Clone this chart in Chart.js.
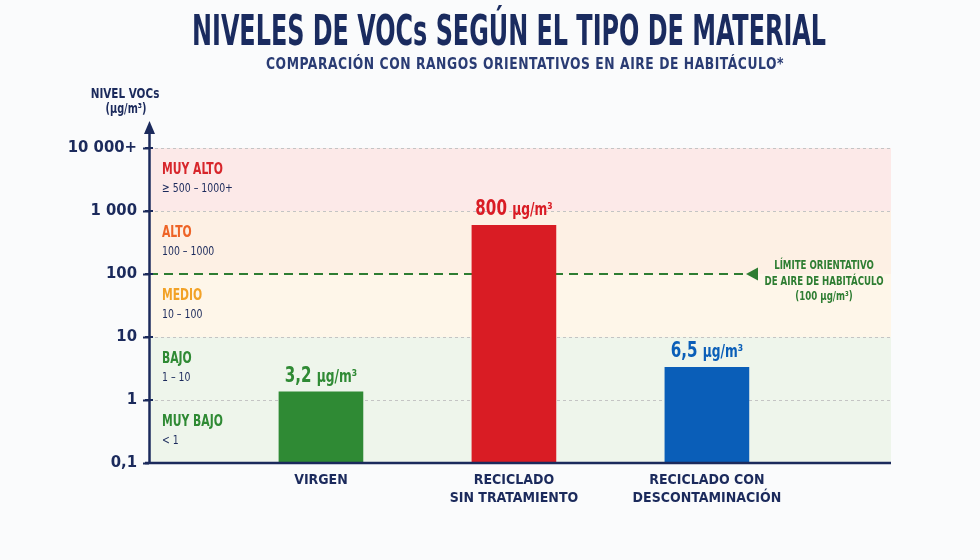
<!DOCTYPE html>
<html><head><meta charset="utf-8">
<script src="https://cdn.jsdelivr.net/npm/chart.js@4"></script>
<style>html,body{margin:0;padding:0;background:#fafbfc}#wrap{width:980px;height:560px}</style>
</head><body><div id="wrap"><canvas id="c" width="980" height="560"></canvas></div>
<script>
// ---- data ----
const categories = [['VIRGEN'], ['RECICLADO', 'SIN TRATAMIENTO'], ['RECICLADO CON', 'DESCONTAMINACIÓN']];
const positions = [1, 2, 3];
const barValues = [1.35, 590, 3.3];
const valueLabels = ['3,2', '800', '6,5'];
const unitLabel = 'µg/m³';
const barColors = ['#2f8a34', '#d91c24', '#0a5eb8'];
const tickValues = [0.1, 1, 10, 100, 1000, 10000];
const tickLabels = ['0,1', '1', '10', '100', '1 000', '10 000+'];
const gridValues = [1, 10, 1000, 10000];
const limitValue = 100;
const limitLines = ['LÍMITE ORIENTATIVO', 'DE AIRE DE HABITÁCULO', '(100 µg/m³)'];
const zoneTop = [10000, 1000, 100, 10, 1];
const zoneBottom = [1000, 100, 10, 1, 0.1];
const zoneNames = ['MUY ALTO', 'ALTO', 'MEDIO', 'BAJO', 'MUY BAJO'];
const zoneRanges = ['≥ 500 – 1000+', '100 – 1000', '10 – 100', '1 – 10', '< 1'];
const zoneNameColors = ['#d7262b', '#ee6427', '#f2a227', '#2f8a34', '#2f8a34'];
const zoneFills = ['#fce9e8', '#fdf0e4', '#fef6e9', '#eef5eb', '#eef5eb'];
const titleText = 'NIVELES DE VOCs SEGÚN EL TIPO DE MATERIAL';
const subtitleText = 'COMPARACIÓN CON RANGOS ORIENTATIVOS EN AIRE DE HABITÁCULO*';
const yTitle = ['NIVEL VOCs', '(µg/m³)'];

const NAVY = '#1b2a5c';
const GREEN = '#2e7d32';

// pick a condensed family if available
function pickFamily() {
  const c = document.createElement('canvas').getContext('2d');
  const cands = ['Liberation Sans Narrow', 'DejaVu Sans Condensed', 'Roboto Condensed', 'Arial Narrow'];
  for (const f of cands) {
    c.font = "20px '" + f + "', monospace"; const a = c.measureText('NIVELES abc').width;
    c.font = '20px monospace'; const b = c.measureText('NIVELES abc').width;
    if (Math.abs(a - b) > 0.5) return {fam: "'" + f + "'", sq: 0.8, cond: true};
  }
  return {fam: 'Roboto', sq: 0.7, cond: false};
}
const FF = pickFamily();
const FAM = FF.fam + ', Roboto, sans-serif';

function txt(ctx, s, x, y, font, color, align, sx) {
  ctx.save();
  ctx.font = font; ctx.fillStyle = color; ctx.textAlign = align || 'left'; ctx.textBaseline = 'alphabetic';
  ctx.translate(x, y); ctx.scale(sx || 1, 1); ctx.fillText(s, 0, 0);
  ctx.restore();
}

const bgPlugin = {
  id: 'bg',
  beforeDraw(chart) {
    const {ctx, width, height} = chart;
    ctx.save(); ctx.fillStyle = '#fafbfc'; ctx.fillRect(0, 0, width, height); ctx.restore();
  },
  beforeDatasetsDraw(chart) {
    const {ctx, chartArea: a, scales: {y}} = chart;
    ctx.save();
    zoneTop.forEach((t, i) => {
      const y1 = y.getPixelForValue(t), y2 = y.getPixelForValue(zoneBottom[i]);
      ctx.fillStyle = zoneFills[i];
      ctx.fillRect(a.left, y1, a.right - a.left, y2 - y1);
    });
    // dotted grid
    ctx.strokeStyle = '#c4c4c4'; ctx.lineWidth = 1; ctx.setLineDash([3, 3]);
    gridValues.forEach(v => {
      const py = Math.round(y.getPixelForValue(v)) + 0.5;
      ctx.beginPath(); ctx.moveTo(a.left, py); ctx.lineTo(a.right, py); ctx.stroke();
    });
    // limit line
    const ly = y.getPixelForValue(limitValue);
    ctx.strokeStyle = GREEN; ctx.lineWidth = 1.8; ctx.setLineDash([9, 6]);
    ctx.beginPath(); ctx.moveTo(a.left, ly); ctx.lineTo(a.left + 596, ly); ctx.stroke();
    ctx.setLineDash([]);
    ctx.fillStyle = GREEN;
    const ax = a.left + 597;
    ctx.beginPath(); ctx.moveTo(ax, ly); ctx.lineTo(ax + 12, ly - 6.5); ctx.lineTo(ax + 12, ly + 6.5); ctx.closePath(); ctx.fill();
    const cx = a.left + 675;
    limitLines.forEach((s, i) => txt(ctx, s, cx, ly - 5 + i * 15.5, '700 12px ' + FAM, GREEN, 'center', FF.sq));
    // zone labels
    zoneTop.forEach((t, i) => {
      const y1 = y.getPixelForValue(t);
      txt(ctx, zoneNames[i], a.left + 13, y1 + 26, '700 15px ' + FAM, zoneNameColors[i], 'left', FF.sq);
      txt(ctx, zoneRanges[i], a.left + 13, y1 + 44, '500 13px ' + FAM, NAVY, 'left', FF.sq);
    });
    ctx.restore();
  },
  afterDatasetsDraw(chart) {
    const {ctx, chartArea: a} = chart;
    ctx.save();
    // axes
    ctx.strokeStyle = NAVY; ctx.lineWidth = 2.5;
    ctx.beginPath(); ctx.moveTo(a.left + 0.5, a.bottom); ctx.lineTo(a.left + 0.5, a.top - 18); ctx.stroke();
    ctx.beginPath(); ctx.moveTo(a.left - 4, a.bottom); ctx.lineTo(a.right, a.bottom); ctx.stroke();
    ctx.fillStyle = NAVY;
    ctx.beginPath(); ctx.moveTo(a.left + 0.5, a.top - 27); ctx.lineTo(a.left + 6, a.top - 14); ctx.lineTo(a.left - 5, a.top - 14); ctx.closePath(); ctx.fill();
    ctx.lineWidth = 2;
    chart.scales.y.ticks.forEach(t => {
      const py = chart.scales.y.getPixelForValue(t.value);
      ctx.beginPath(); ctx.moveTo(a.left - 4, py); ctx.lineTo(a.left + 4, py); ctx.stroke();
    });
    // bar value labels
    const meta = chart.getDatasetMeta(0);
    meta.data.forEach((bar, i) => {
      const col = barColors[i];
      const f1 = '700 21px ' + FAM, f2 = '700 17px ' + FAM;
      ctx.font = f1; const w1 = ctx.measureText(valueLabels[i] + ' ').width * FF.sq;
      ctx.font = f2; const w2 = ctx.measureText(unitLabel).width * FF.sq;
      const x0 = bar.x - (w1 + w2) / 2;
      const by = bar.y - 10;
      txt(ctx, valueLabels[i] + ' ', x0, by, f1, col, 'left', FF.sq);
      txt(ctx, unitLabel, x0 + w1, by, f2, col, 'left', FF.sq);
    });
    ctx.restore();
  },
  afterDraw(chart) {
    const {ctx} = chart;
    ctx.save();
    ctx.font = '900 42px ' + FAM; ctx.fillStyle = '#1a2b5f'; ctx.textAlign = 'center';
    ctx.fillText(titleText, 509, 45, 634);
    ctx.font = '600 15px ' + FAM; ctx.fillStyle = '#2a3c74';
    if ('letterSpacing' in ctx) ctx.letterSpacing = '0.6px';
    ctx.fillText(subtitleText, 525, 69, 518);
    ctx.restore();
    txt(ctx, yTitle[0], 125, 98, '700 14.5px ' + FAM, NAVY, 'center', FF.sq);
    txt(ctx, yTitle[1], 126, 113, '700 13.5px ' + FAM, NAVY, 'center', FF.sq);
  }
};

new Chart(document.getElementById('c'), {
  type: 'bar',
  data: {
    datasets: [{
      data: positions.map((x, i) => ({x: x, y: barValues[i]})),
      backgroundColor: barColors,
      borderWidth: 0,
      barThickness: 84
    }]
  },
  options: {
    responsive: false,
    animation: false,
    devicePixelRatio: 1,
    layout: {padding: {left: 0, right: 89, top: 148, bottom: 0}},
    plugins: {legend: {display: false}, tooltip: {enabled: false}, title: {display: false}},
    scales: {
      x: {
        type: 'linear', min: 0.109, max: 3.954, offset: false,
        afterBuildTicks: s => { s.ticks = positions.map(v => ({value: v})); },
        afterFit: s => { s.height = 97; },
        ticks: {
          callback: v => { const k = positions.indexOf(v); return k >= 0 ? categories[k] : ''; },
          color: NAVY, font: {family: FAM, size: FF.cond ? 14 : 12.5, weight: '700', lineHeight: 1.3},
          padding: 8, maxRotation: 0, minRotation: 0, autoSkip: false
        },
        grid: {display: false, drawTicks: false, offset: false},
        border: {display: false}
      },
      y: {
        type: 'logarithmic', min: 0.1, max: 10000,
        afterBuildTicks: s => { s.ticks = tickValues.map(v => ({value: v})); },
        afterFit: s => { s.width = 149; },
        ticks: {
          callback: v => { const k = tickValues.indexOf(v); return k >= 0 ? tickLabels[k] : ''; },
          color: NAVY, font: {family: FAM, size: 16.5, weight: '600'}, padding: 6, autoSkip: false
        },
        grid: {drawOnChartArea: false, tickLength: 6, tickColor: NAVY, tickWidth: 2},
        border: {display: false}
      }
    }
  },
  plugins: [bgPlugin]
});
</script>
</body></html>
